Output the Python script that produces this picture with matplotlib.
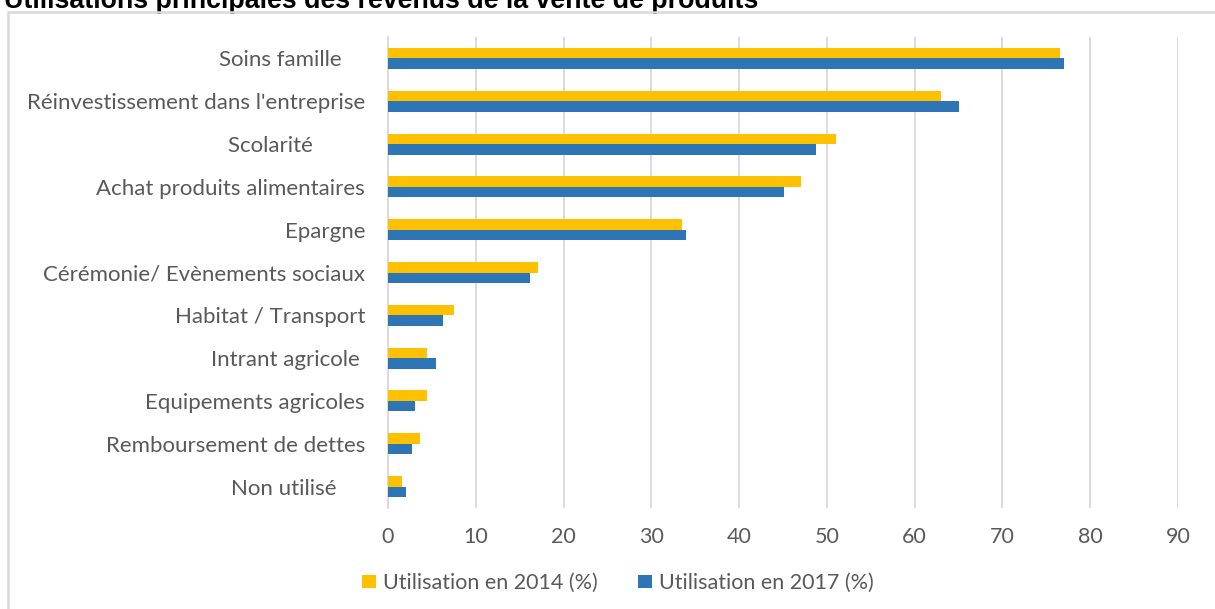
import matplotlib.pyplot as plt
import numpy as np
from matplotlib.patches import Rectangle

CATEGORIES = [
    "Soins famille    ",
    "Réinvestissement dans l'entreprise",
    "Scolarité         ",
    "Achat produits alimentaires",
    "Epargne",
    "Cérémonie/ Evènements sociaux",
    "Habitat / Transport",
    "Intrant agricole ",
    "Equipements agricoles",
    "Remboursement de dettes",
    "Non utilisé     ",
]
USE_2014 = [76.5, 63.0, 51.0, 47.0, 33.5, 17.1, 7.5, 4.4, 4.4, 3.6, 1.6]
USE_2017 = [77.0, 65.0, 48.8, 45.1, 34.0, 16.2, 6.3, 5.5, 3.1, 2.7, 2.0]
SERIES_LABELS = ["Utilisation en 2014 (%)", "Utilisation en 2017 (%)"]
X_TICKS = list(range(0, 91, 10))

COLORS = {
    "yellow": "#FFC000",
    "blue": "#2E75B6",
    "grid": "#D9D9D9",
    "text": "#595959",
}
FONT = "Lato"
FS = 15.5

fig = plt.figure(figsize=(12.15, 6.09), dpi=100)
W, H = 1215, 609

# chart frame
fig.patches.append(Rectangle((8 / W, -0.05), 1.2, 1 - 12 / H + 0.05, transform=fig.transFigure,
                             fill=False, edgecolor=COLORS["grid"], linewidth=1.8, zorder=5))
# title is cropped at the top edge, as in the source image
fig.text(4 / W, 1 - 8 / H, "Utilisations principales des revenus de la vente de produits",
         fontsize=19.3, fontweight="bold", family="Liberation Sans", color="black", va="baseline")

ax = fig.add_axes([388 / W, 1 - 508 / H, (1178 - 388) / W, (508 - 37) / H])
y = np.arange(len(CATEGORIES))
h = 0.245
ax.barh(y - h / 2, USE_2014, height=h, color=COLORS["yellow"], label=SERIES_LABELS[0], zorder=3)
ax.barh(y + h / 2, USE_2017, height=h, color=COLORS["blue"], label=SERIES_LABELS[1], zorder=3)

ax.set_xlim(0, 90)
ax.set_ylim(len(CATEGORIES) - 0.5, -0.5)
ax.set_xticks(X_TICKS)
ax.set_yticks(y)
ax.set_yticklabels(CATEGORIES, family=FONT, fontsize=16, color=COLORS["text"])
ax.set_xticklabels([str(t) for t in X_TICKS], family=FONT, fontsize=FS, color=COLORS["text"])
ax.tick_params(axis="both", length=0)
ax.tick_params(axis="y", pad=16.5)
ax.tick_params(axis="x", pad=14)
ax.grid(axis="x", color=COLORS["grid"], linewidth=1.3, zorder=0)
for side in ["top", "right", "bottom"]:
    ax.spines[side].set_visible(False)
ax.spines["left"].set_color(COLORS["grid"])
ax.spines["left"].set_linewidth(1.3)

ax.legend(loc="center", bbox_to_anchor=(618 / W, 1 - 583 / H), bbox_transform=fig.transFigure,
          ncol=2, frameon=False, handlelength=0.65, handleheight=0.6, columnspacing=1.9,
          handletextpad=0.3, prop={"family": FONT, "size": FS}, labelcolor=COLORS["text"])

fig.savefig("out.png", dpi=100, facecolor="white")
